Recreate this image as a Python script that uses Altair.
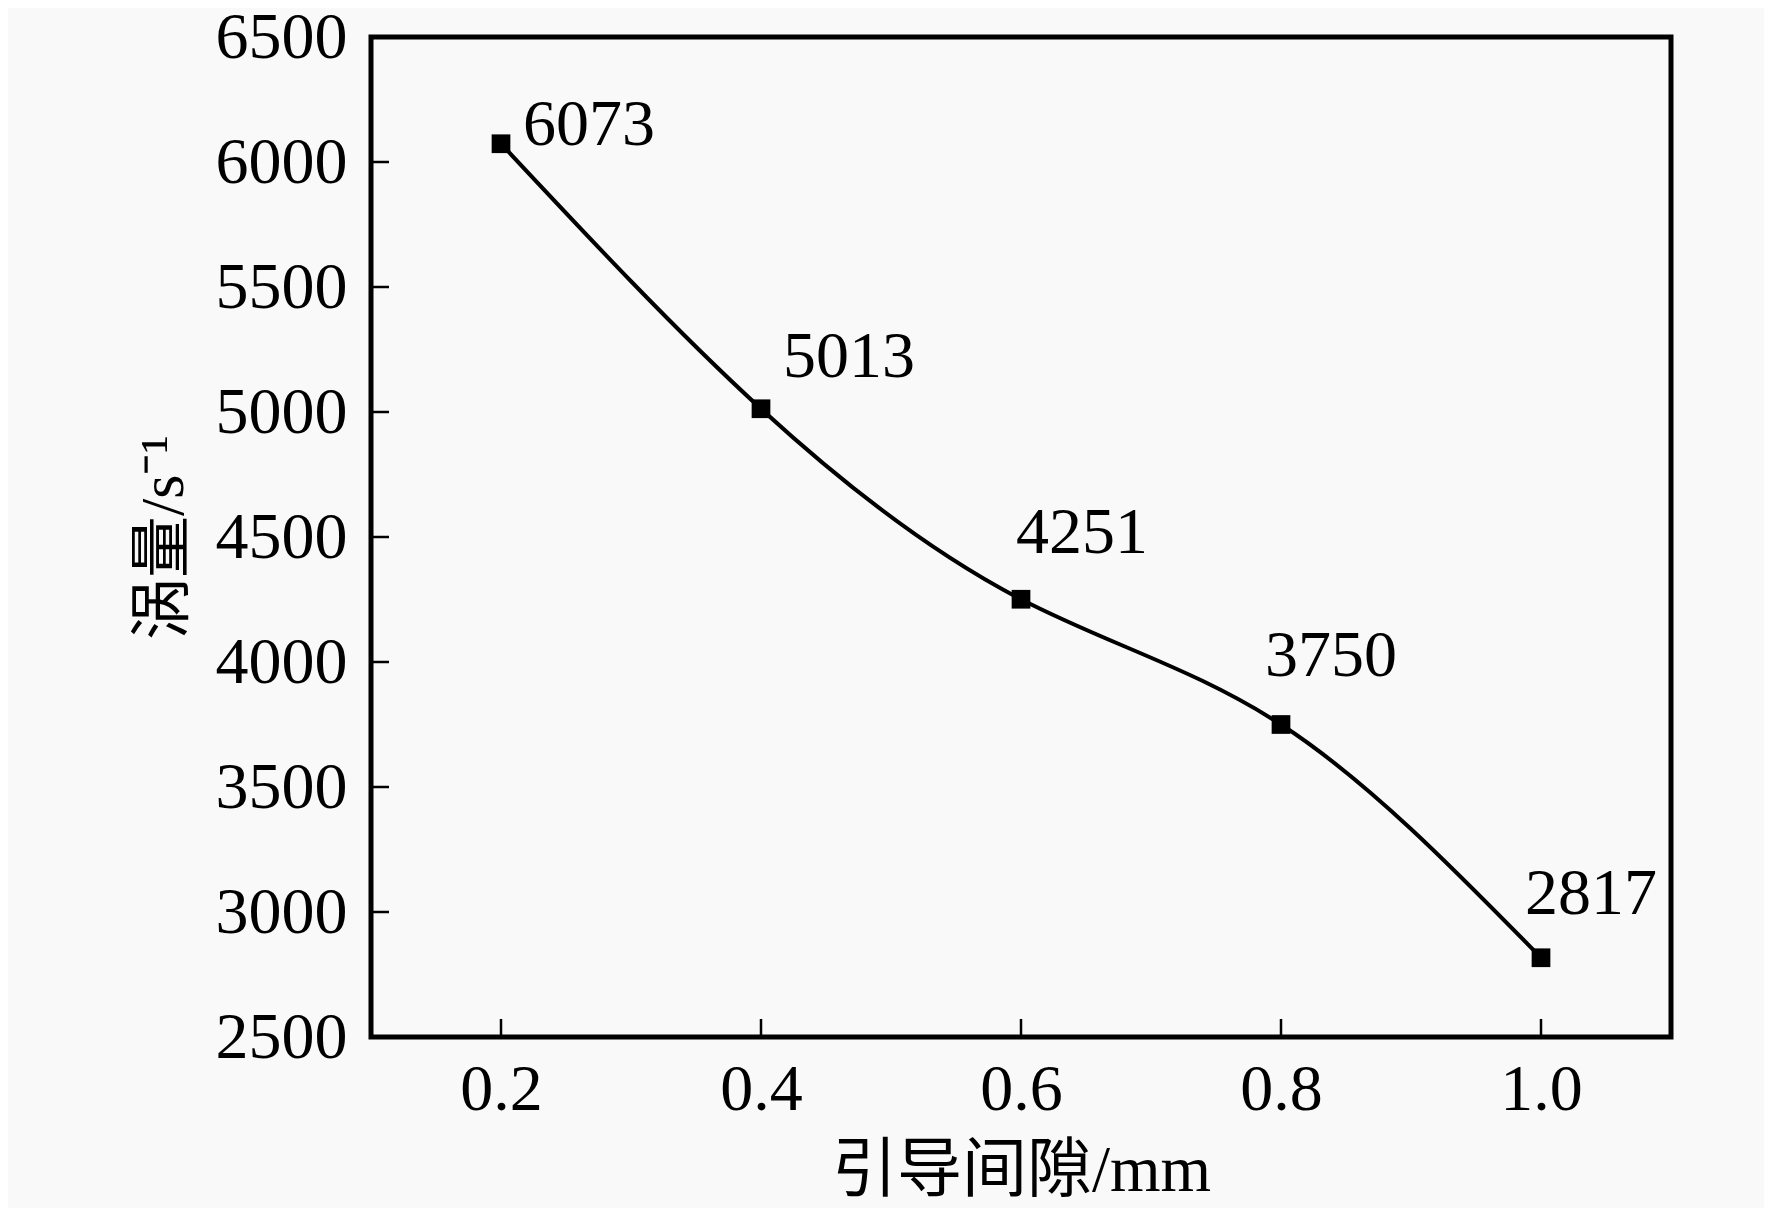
import altair as alt
import pandas as pd

# ---- data ----
gap = [0.2, 0.4, 0.6, 0.8, 1.0]
vorticity = [6073, 5013, 4251, 3750, 2817]
x_tick_values = [0.2, 0.4, 0.6, 0.8, 1.0]
y_tick_values = [2500, 3000, 3500, 4000, 4500, 5000, 5500, 6000, 6500]
y_inner_ticks = [3000, 3500, 4000, 4500, 5000, 5500, 6000]

df = pd.DataFrame({"gap": gap, "vorticity": vorticity})
df_xt = pd.DataFrame({"gap": x_tick_values})
df_yt = pd.DataFrame({"vorticity": y_inner_ticks})

W, H = 1300, 1000
SERIF = "'Liberation Serif', 'Times New Roman', serif"
TITLE_FONT = "'Liberation Serif', 'Noto Sans CJK SC', serif"

xscale = alt.Scale(domain=[0.1, 1.1], nice=False, zero=False)
yscale = alt.Scale(domain=[2500, 6500], nice=False, zero=False)
xaxis = alt.Axis(values=x_tick_values, format=".1f", title="引导间隙/mm",
                 labelPadding=20, titlePadding=17, titleFontSize=65)
yaxis = alt.Axis(values=y_tick_values, format="d", title="涡量/s⁻¹",
                 labelPadding=24, titlePadding=20, titleFontSize=62)


def X():
    return alt.X("gap:Q", scale=xscale, axis=xaxis)


def Y():
    return alt.Y("vorticity:Q", scale=yscale, axis=yaxis)


line = alt.Chart(df).mark_line(
    color="black", strokeWidth=4, interpolate="natural"
).encode(x=X(), y=Y())

points = alt.Chart(df).mark_point(
    shape="square", filled=True, color="black", opacity=1, size=350
).encode(x=X(), y=Y())

# label offsets (style), keyed by gap value
offsets = {0.2: (22, 1), 0.4: (22, -32), 0.6: (-5, -46), 0.8: (-16, -49), 1.0: (-16, -44)}
labels = []
for g, (dx, dy) in offsets.items():
    labels.append(
        alt.Chart(df).transform_filter(
            f"abs(datum.gap - {g}) < 1e-6"
        ).mark_text(
            font=SERIF, fontSize=66, color="black", align="left",
            baseline="alphabetic", dx=dx, dy=dy
        ).encode(
            x=X(), y=Y(),
            text=alt.Text("vorticity:Q", format="d"),
        )
    )

xticks = alt.Chart(df_xt).mark_rule(color="black", strokeWidth=2.5).encode(
    x=X(),
    y=alt.value(H),
    y2=alt.value(H - 18),
)

yticks = alt.Chart(df_yt).mark_rule(color="black", strokeWidth=2.5).encode(
    y=Y(),
    x=alt.value(0),
    x2=alt.value(18),
)

chart = alt.layer(line, points, xticks, yticks, *labels).properties(
    width=W, height=H,
    autosize=alt.AutoSizeParams(type="none"),
    padding={"left": 363, "top": 29, "right": 93, "bottom": 171},
    background="#f9f9f9",
).configure_view(
    stroke="black", strokeWidth=5, fill="#f9f9f9"
).configure_axis(
    domain=False, ticks=False, tickSize=0, grid=False,
    labelFont=SERIF, labelFontSize=66, labelColor="black",
    labelFlush=False, labelOverlap=False,
    titleFont=TITLE_FONT, titleFontWeight="normal",
    titleColor="black",
)

chart.save("out.html", embed_options={"renderer": "svg", "actions": False})
